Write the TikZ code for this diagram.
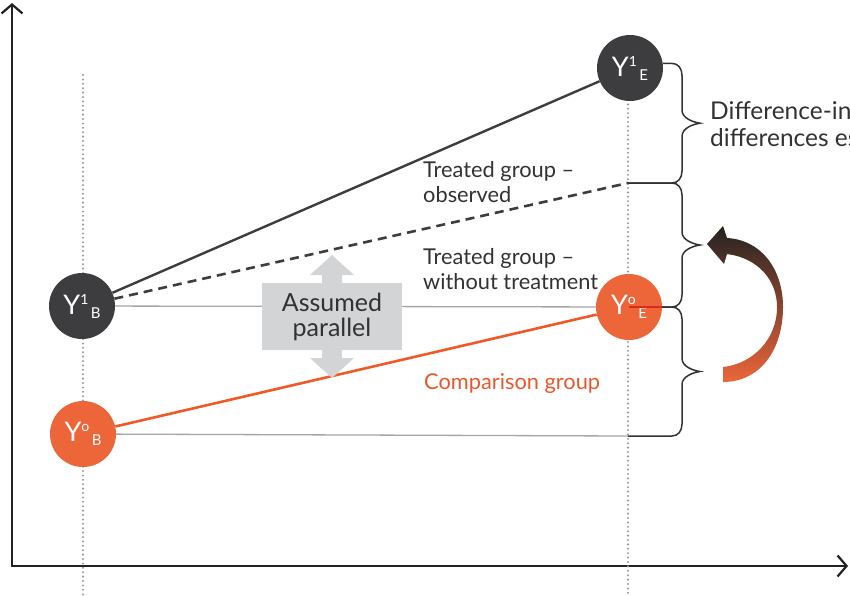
\documentclass[tikz,border=0pt]{standalone}
\usepackage{fontspec}
\setmainfont{Lato}
\usetikzlibrary{arrows.meta,positioning,calc}
\definecolor{treatdark}{RGB}{61,61,63}
\definecolor{comporange}{RGB}{236,102,58}
\definecolor{compline}{RGB}{240,90,40}
\definecolor{comptext}{RGB}{232,88,45}
\definecolor{compred}{RGB}{218,42,30}
\definecolor{boxgray}{RGB}{211,212,214}
\definecolor{textdark}{RGB}{50,50,52}
\definecolor{guidegray}{RGB}{155,155,155}
\definecolor{flatgray}{RGB}{165,165,165}
\definecolor{arcdark}{RGB}{34,34,34}
% Y with its index pair, written one after the other
\newcommand{\ylab}[2]{Y\raisebox{10pt}{\fontsize{14}{14}\selectfont #1}%
  \raisebox{-4pt}{\fontsize{15}{15}\selectfont\,#2}}
% curly bracket opening to the left, tip to the right
\newcommand{\curlybrace}[2]{%
  \path ($(#1)!.5!(#2)$) coordinate (bmid);
  \draw[bracket] (#1) -- (#1 -| bracex)
    .. controls +(6,0) and +(0,-7) .. ++(10,12)
    -- ($(bmid -| bracex)+(10,-13)$)
    .. controls +(0,8) and +(-7,-1) .. ($(bmid -| bracex)+(28,0)$)
    .. controls +(-7,1) and +(0,-8) .. ($(bmid -| bracex)+(10,13)$)
    -- ($(#2 -| bracex)+(10,-12)$)
    .. controls +(0,7) and +(6,0) .. (#2 -| bracex)
    -- (#2);}

\begin{document}
\begin{tikzpicture}[x=1pt, y=-1pt,
    grp/.style={circle, minimum size=66pt, inner sep=0pt, text=white,
                font=\fontsize{27}{27}\selectfont},
    treated/.style={grp, fill=treatdark},
    compared/.style={grp, fill=comporange},
    guide/.style={guidegray, line width=2.3pt, line cap=round, dash pattern=on 0pt off 4.4pt},
    axisline/.style={arcdark, line width=2.2pt,
                     {Straight Barb[length=9pt,width=21pt]}-{Straight Barb[length=9pt,width=21pt]}},
    observed/.style={treatdark, line width=2.4pt},
    cfline/.style={treatdark, line width=2.6pt, dash pattern=on 9pt off 6pt},
    flatline/.style={flatgray, line width=1.3pt},
    complink/.style={compline, line width=2.6pt},
    bracket/.style={textdark, line width=1.5pt},
    lbl/.style={font=\fontsize{21.8}{25}\selectfont, text=textdark, align=left,
                inner sep=0pt, anchor=north west},
    pbox/.style={fill=boxgray, minimum width=140pt, minimum height=67pt, align=center,
                 text=textdark, font=\fontsize{25}{25}\selectfont}
  ]
  \useasboundingbox (0,0) rectangle (850,595);
  \clip (0,0) rectangle (850,595);

  \coordinate (orig) at (12,566);
  \coordinate (ytip) at (12,3);
  \coordinate (xtip) at (848,566);
  \coordinate (gb top) at (83,75);
  \coordinate (gb bot) at (83,595);
  \coordinate (ge top) at (628,100);
  \coordinate (ge bot) at (628,595);
  \coordinate (obs) at (628,183);
  \coordinate (cmpend) at (628,436);
  \coordinate (bracex) at (672,0);

  % axes and time guides
  \draw[axisline] (ytip) -- (orig) -- (xtip);
  \draw[guide] (gb top) -- (gb bot);
  \draw[guide] (ge top) -- (ge bot);

  % groups before and after
  \node[treated]  (yb1) at (82,306)  {\ylab{1}{B}};
  \node[compared] (yb0) at (83,434)  {\ylab{o}{B}};
  \node[treated]  (ye1) at (630,68)  {\ylab{1}{E}};
  \node[compared] (ye0) at (629,307) {\ylab{o}{E}};

  % trends
  \draw[flatline] (yb1) -- (ye0);
  \draw[flatline] (yb0) -- (cmpend);
  \draw[observed] (yb1) -- (ye1);
  \draw[cfline]   (yb1) -- (obs);
  \draw[complink] (yb0) -- (ye0);
  \draw[compred, line width=2pt] (ye0.center) -- (ye0.east);

  % assumed parallel
  \fill[boxgray] (332,255) -- (354,275) -- (342,275) -- (342,358) -- (354,358)
    -- (332,378) -- (310,358) -- (322,358) -- (322,275) -- (310,275) -- cycle;
  \node[pbox] (par) at (332,316.5) {Assumed\\parallel};

  \node[lbl] (lobs) at (423,161) {Treated group --\\observed};
  \node[lbl] (lcf)  at (423,248) {Treated group --\\without treatment};
  \node[lbl, text=comptext] (lcmp) at (424,373) {Comparison group};

  % brackets
  \curlybrace{ye1.8}{obs}
  \curlybrace{obs}{ye0.east}
  \curlybrace{ye0.east}{cmpend}
  \node[lbl, font=\fontsize{24.5}{27}\selectfont] (did) at (710,101)
    {Difference-in-\\differences estimate};

  % swing arrow
  \shade[top color=arcdark, bottom color=comporange]
    (723,382) -- (723,367)
    .. controls (752,364) and (777,340) .. (777,307)
    .. controls (777,280) and (758,258) .. (727,254)
    -- (724,264) -- (707,244) -- (723,226) -- (727,238)
    .. controls (762,240) and (783,270) .. (783,307)
    .. controls (783,350) and (760,382) .. (723,382) -- cycle;
\end{tikzpicture}
\end{document}
